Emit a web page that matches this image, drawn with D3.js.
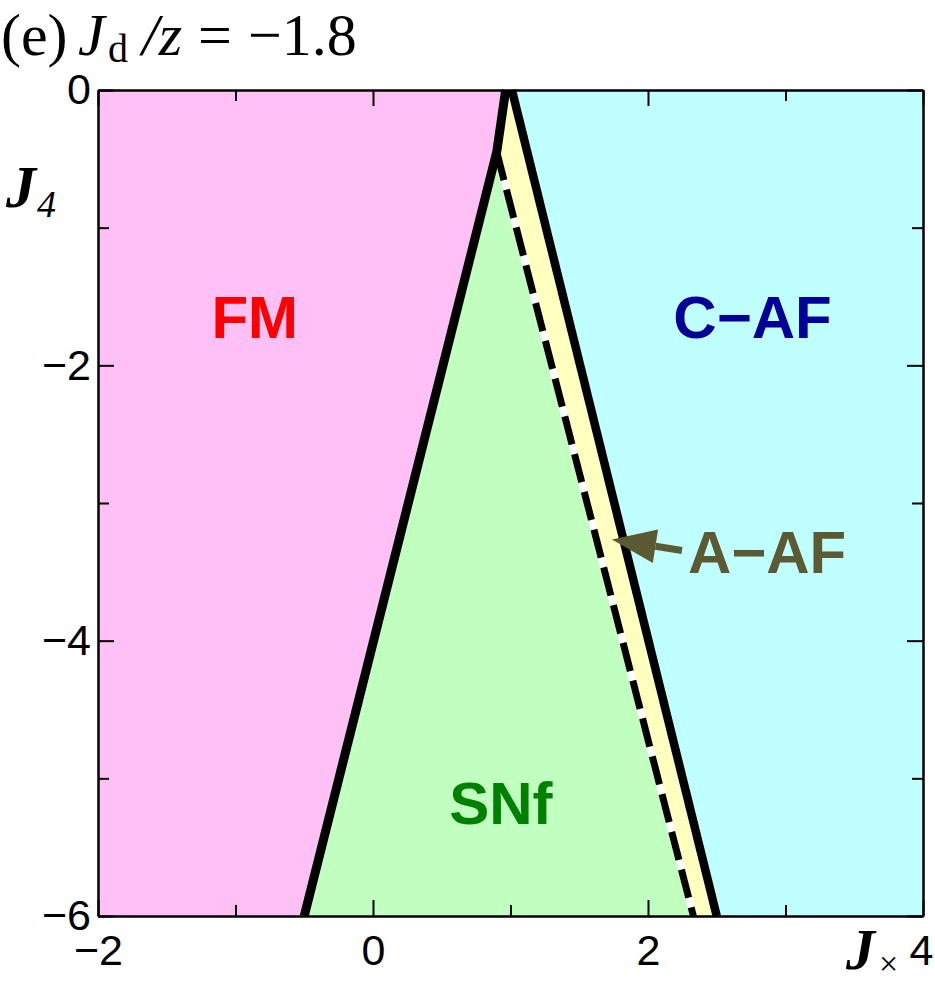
<!DOCTYPE html>
<html>
<head>
<meta charset="utf-8">
<script src="https://cdn.jsdelivr.net/npm/d3@7"></script>
<style>
  body { margin: 0; background: #fff; }
  svg { display: block; }
</style>
</head>
<body>
<svg id="chart" width="935" height="986"></svg>
<script>
// phase boundaries, in (Jx, J4)
var fmBoundary = [[-0.5, -6], [0.9, -0.45], [0.965, 0]];
var cafBoundary = [[1.01, 0], [2.5, -6]];
var snfBoundary = [[0.9, -0.45], [2.33, -6]];

var xMajor = [-2, 0, 2, 4];
var xMinor = [-1, 1, 3];
var yMajor = [0, -2, -4, -6];
var yMinor = [-1, -3, -5];

var phaseNames = ["FM", "C\u2212AF", "SNf", "A\u2212AF"];
var phaseColors = ["#ffc0f5", "#c0ffff", "#c0ffc0", "#ffffc0"];
var textColors = ["#ff0000", "#000099", "#008000", "#5b5a33"];

var svg = d3.select("svg");
var x = d3.scaleLinear().domain([-2, 4]).range([98, 923]);
var y = d3.scaleLinear().domain([0, -6]).range([90, 916]);

var line = d3.line().x(function(d) { return x(d[0]); }).y(function(d) { return y(d[1]); });
var area = function(pts) { return line(pts) + "Z"; };

// region polygons built from the boundaries
var fmPoly = [[-2, 0]].concat(fmBoundary.slice().reverse()).concat([[-2, -6]]);
var snfPoly = [fmBoundary[1], fmBoundary[0], snfBoundary[1]];
var aafPoly = [fmBoundary[2], cafBoundary[0], cafBoundary[1], snfBoundary[1], snfBoundary[0]];
var cafPoly = [cafBoundary[0], [4, 0], [4, -6], cafBoundary[1]];

var g = svg.append("g");
g.append("path").attr("d", area(fmPoly)).attr("fill", phaseColors[0]);
g.append("path").attr("d", area(cafPoly)).attr("fill", phaseColors[1]);
g.append("path").attr("d", area(snfPoly)).attr("fill", phaseColors[2]);
g.append("path").attr("d", area(aafPoly)).attr("fill", phaseColors[3]);

// boundaries
g.append("path").attr("d", line(snfBoundary)).attr("stroke", "#fff").attr("stroke-width", 7).attr("fill", "none");
g.append("path").attr("d", line(snfBoundary)).attr("stroke", "#000").attr("stroke-width", 7)
  .attr("stroke-dasharray", "29,10").attr("fill", "none");
g.append("path").attr("d", line(fmBoundary)).attr("stroke", "#000").attr("stroke-width", 9)
  .attr("stroke-linejoin", "miter").attr("fill", "none");
g.append("path").attr("d", line(cafBoundary)).attr("stroke", "#000").attr("stroke-width", 8.5).attr("fill", "none");

// frame + ticks
function axis(gen, vals, size, tx, ty, labels, pad) {
  var a = svg.append("g").attr("transform", "translate(" + tx + "," + ty + ")")
    .call(gen.tickValues(vals).tickSizeInner(-size).tickSizeOuter(0).tickPadding(pad || 12)
      .tickFormat(labels ? d3.format("") : ""));
  a.select(".domain").attr("stroke-width", 2);
  a.selectAll(".tick line").attr("stroke-width", 2);
  a.selectAll("text").attr("font-family", "Liberation Sans, Arial, sans-serif").attr("font-size", 43).attr("fill", "#000");
  return a;
}
axis(d3.axisBottom(x), xMajor, 16, 0, 916, true, 12).selectAll("text").attr("dy", "0.85em")
  .attr("dx", function(d) { return d === 4 ? -2 : 0; });
axis(d3.axisBottom(x), xMinor, 11, 0, 916, false);
axis(d3.axisTop(x), xMajor, 16, 0, 90, false);
axis(d3.axisTop(x), xMinor, 11, 0, 90, false);
axis(d3.axisLeft(y), yMajor, 16, 98, 0, true, 7);
axis(d3.axisLeft(y), yMinor, 11, 98, 0, false);
axis(d3.axisRight(y), yMajor, 16, 923, 0, false);
axis(d3.axisRight(y), yMinor, 11, 923, 0, false);

// phase labels
var labelPos = [[-0.86, -1.8, "middle"], [2.76, -1.8, "middle"], [0.93, -5.33, "middle"], [2.29, -3.51, "start"]];
phaseNames.forEach(function(n, i) {
  svg.append("text").attr("x", x(labelPos[i][0])).attr("y", y(labelPos[i][1]))
    .attr("text-anchor", labelPos[i][2]).attr("font-family", "Liberation Sans, Arial, sans-serif")
    .attr("font-weight", "bold").attr("font-size", 60).attr("fill", textColors[i]).text(n);
});

// arrow to A-AF strip
var tail = [x(2.247), y(-3.345)], tip = [x(1.738), y(-3.265)];
var ang = Math.atan2(tip[1] - tail[1], tip[0] - tail[0]);
var hl = 44, hw = 17;
var bx = tip[0] - hl * Math.cos(ang), by = tip[1] - hl * Math.sin(ang);
svg.append("line").attr("x1", tail[0]).attr("y1", tail[1]).attr("x2", bx).attr("y2", by)
  .attr("stroke", textColors[3]).attr("stroke-width", 7);
svg.append("path").attr("fill", textColors[3])
  .attr("d", "M" + tip + "L" + [bx - hw * Math.sin(ang), by + hw * Math.cos(ang)] +
    "L" + [bx + hw * Math.sin(ang), by - hw * Math.cos(ang)] + "Z");

// title and axis names
var serif = "Liberation Serif, Times New Roman, serif";
var t = svg.append("text").attr("font-family", serif).attr("font-size", 60).attr("fill", "#000");
t.append("tspan").attr("x", 1).attr("y", 55).text("(e)");
t.append("tspan").attr("x", 78).attr("y", 55).attr("font-style", "italic").text("J");
t.append("tspan").attr("x", 108).attr("y", 62).attr("font-size", 40).text("d");
t.append("tspan").attr("x", 142).attr("y", 55).attr("font-style", "italic").text("/z");
t.append("tspan").attr("x", 198).attr("y", 55).text("=");
t.append("tspan").attr("x", 248).attr("y", 55).text("\u22121.8");

var yl = svg.append("text").attr("font-family", serif).attr("fill", "#000");
yl.append("tspan").attr("x", 6).attr("y", 207).attr("font-size", 60).attr("font-style", "italic").attr("font-weight", "bold").text("J");
yl.append("tspan").attr("x", 37).attr("y", 217).attr("font-size", 38).attr("font-style", "italic").text("4");

var xl = svg.append("text").attr("font-family", serif).attr("fill", "#000");
xl.append("tspan").attr("x", 846).attr("y", 969).attr("font-size", 58).attr("font-style", "italic").attr("font-weight", "bold").text("J");
xl.append("tspan").attr("x", 879).attr("y", 975).attr("font-size", 34).text("\u00d7");
</script>
</body>
</html>
